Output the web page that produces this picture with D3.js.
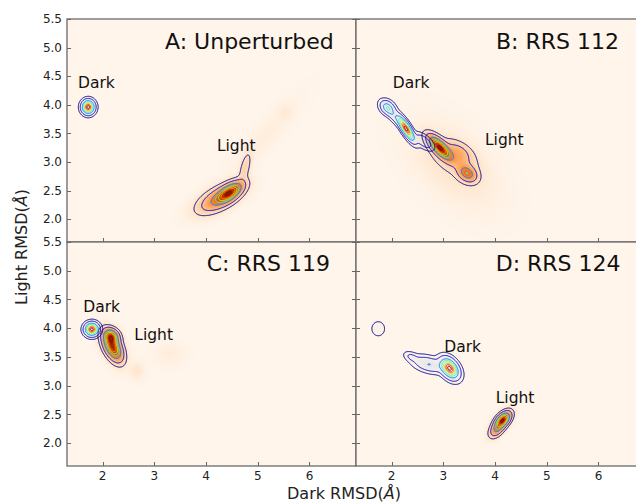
<!DOCTYPE html>
<html>
<head>
<meta charset="utf-8">
<script src="https://cdn.jsdelivr.net/npm/d3@7"></script>
<style>
  body { margin: 0; background: #fff; }
  svg { display: block; font-family: "DejaVu Sans", sans-serif; }
</style>
</head>
<body>
<svg id="chart" width="636" height="502"></svg>
<script>
// Each cluster: [centre x, centre y, sd x, sd y, correlation, weight]
const panelTitles = ["A: Unperturbed", "B: RRS 112", "C: RRS 119", "D: RRS 124"];

const lightA = [
  [4.45, 2.46, 0.14, 0.10, 0.6, 0.6],
  [4.25, 2.36, 0.21, 0.13, 0.6, 0.4],
  [4.75, 2.88, 0.07, 0.17, 0.6, 0.03],
  [5.10, 3.40, 0.35, 0.35, 0.9, 0.012],
  [5.53, 3.86, 0.08, 0.08, 0.0, 0.003]
];
const darkA = [
  [1.72, 3.96, 0.068, 0.067, 0.0, 1.0]
];

const lightB = [
  [2.93, 3.25, 0.12, 0.11, -0.7, 1.0],
  [3.22, 3.07, 0.20, 0.13, -0.5, 0.35],
  [3.30, 3.20, 0.15, 0.10, -0.5, 0.12],
  [3.46, 2.80, 0.10, 0.08, -0.3, 0.32],
  [3.20, 2.95, 0.40, 0.35, -0.5, 0.25]
];
const darkB = [
  [2.28, 3.58, 0.09, 0.12, -0.8, 1.0],
  [1.92, 3.95, 0.08, 0.07, -0.3, 0.3],
  [2.05, 3.80, 0.11, 0.11, -0.8, 0.2],
  [2.62, 3.36, 0.10, 0.08, -0.6, 0.2]
];

const lightC = [
  [2.19, 3.68, 0.10, 0.13, -0.5, 1.0],
  [2.17, 3.86, 0.08, 0.07, -0.2, 0.35],
  [2.66, 3.26, 0.08, 0.08, 0.0, 0.008],
  [3.30, 3.55, 0.15, 0.10, 0.0, 0.006]
];
const darkC = [
  [1.79, 3.98, 0.075, 0.063, 0.0, 1.0]
];

const lightD = [
  [4.15, 2.40, 0.08, 0.075, 0.5, 1.0],
  [4.05, 2.26, 0.08, 0.08, 0.5, 0.35]
];
const darkD = [
  [3.12, 3.30, 0.10, 0.10, -0.4, 1.0],
  [2.72, 3.37, 0.17, 0.08, -0.4, 0.35],
  [2.38, 3.50, 0.08, 0.05, -0.4, 0.04],
  [1.74, 3.99, 0.085, 0.085, 0.0, 0.045]
];

const xTicks = [2, 3, 4, 5, 6];
const yTicks = [2.0, 2.5, 3.0, 3.5, 4.0, 4.5, 5.0, 5.5];
const xDomain = [1.31, 6.9];
const yDomain = [1.6, 5.5];

// Contour levels as fractions of each field's peak
const levelFractions = [0.02, 0.08, 0.25, 0.4, 0.55, 0.7, 0.82, 0.94];

// ---------------------------------------------------------------------------

function density(comps, x, y) {
  let s = 0;
  for (const [cx, cy, sx, sy, r, w] of comps) {
    const dx = (x - cx) / sx, dy = (y - cy) / sy;
    const k = 1 - r * r;
    const q = (dx * dx - 2 * r * dx * dy + dy * dy) / k;
    s += w / (2 * Math.PI * sx * sy * Math.sqrt(k)) * Math.exp(-q / 2);
  }
  return s;
}

// matplotlib-style "jet" colormap
function jet(t) {
  t = Math.max(0, Math.min(1, t));
  const interp = (pts) => {
    for (let i = 1; i < pts.length; i++) {
      if (t <= pts[i][0]) {
        const [a, va] = pts[i - 1], [b, vb] = pts[i];
        return va + (vb - va) * (t - a) / (b - a);
      }
    }
    return pts[pts.length - 1][1];
  };
  const r = interp([[0, 0], [0.35, 0], [0.66, 1], [0.89, 1], [1, 0.5]]);
  const g = interp([[0, 0], [0.125, 0], [0.375, 1], [0.64, 1], [0.91, 0], [1, 0]]);
  const b = interp([[0, 0.5], [0.11, 1], [0.34, 1], [0.65, 0], [1, 0]]);
  return d3.rgb(r * 255, g * 255, b * 255).toString();
}

const svg = d3.select("#chart");
const colEdges = [[67, 356], [356, 645]];
const rowEdges = [[19, 242], [242, 466]];

const panels = [
  { title: panelTitles[0], light: lightA, dark: darkA, col: 0, row: 0,
    titleAt: [3.206, 4.98], darkAt: [1.523, 4.285], lightAt: [4.21, 3.19] },
  { title: panelTitles[1], light: lightB, dark: darkB, col: 1, row: 0,
    titleAt: [4.018, 4.98], darkAt: [2.02, 4.297], lightAt: [3.805, 3.288] },
  { title: panelTitles[2], light: lightC, dark: darkC, col: 0, row: 1,
    titleAt: [4.012, 4.99], darkAt: [1.625, 4.284], lightAt: [2.612, 3.80] },
  { title: panelTitles[3], light: lightD, dark: darkD, col: 1, row: 1,
    titleAt: [4.012, 4.99], darkAt: [3.018, 3.592], lightAt: [4.012, 2.70] }
];

const defs = svg.append("defs");

panels.forEach((p, idx) => {
  const [x0, x1] = colEdges[p.col];
  const [y0, y1] = rowEdges[p.row];
  const xs = d3.scaleLinear().domain(xDomain).range([x0, x1]);
  const ys = d3.scaleLinear().domain(yDomain).range([y1, y0]);
  const w = x1 - x0, h = y1 - y0;

  // Sample both density fields on the pixel grid of the panel
  const L = new Float64Array(w * h), D = new Float64Array(w * h);
  for (let j = 0; j < h; j++) {
    const y = ys.invert(y0 + j + 0.5);
    for (let i = 0; i < w; i++) {
      const x = xs.invert(x0 + i + 0.5);
      L[j * w + i] = density(p.light, x, y);
      D[j * w + i] = density(p.dark, x, y);
    }
  }
  const Lmax = d3.max(L), Dmax = d3.max(D);

  // Heat map: light density on an orange ramp, dark density as a pale grey-blue wash
  const canvas = document.createElement("canvas");
  canvas.width = w; canvas.height = h;
  const ctx = canvas.getContext("2d");
  const img = ctx.createImageData(w, h);
  const wash = [205, 217, 226];
  for (let k = 0; k < w * h; k++) {
    const c = d3.rgb(d3.interpolateOranges(Math.pow(L[k] / Lmax, 0.5)));
    const a = 0.5 * Math.min(1, (D[k] / Dmax) * 4);
    img.data[4 * k] = c.r * (1 - a) + wash[0] * a;
    img.data[4 * k + 1] = c.g * (1 - a) + wash[1] * a;
    img.data[4 * k + 2] = c.b * (1 - a) + wash[2] * a;
    img.data[4 * k + 3] = 255;
  }
  ctx.putImageData(img, 0, 0);

  const clipId = "clip" + idx;
  defs.append("clipPath").attr("id", clipId)
    .append("rect").attr("x", x0).attr("y", y0).attr("width", w).attr("height", h);

  const g = svg.append("g").attr("clip-path", `url(#${clipId})`);
  g.append("image")
    .attr("x", x0).attr("y", y0).attr("width", w).attr("height", h)
    .attr("preserveAspectRatio", "none")
    .attr("href", canvas.toDataURL());

  // Contour lines of each field, coloured by level
  const lo = levelFractions[0], hi = levelFractions[levelFractions.length - 1];
  const path = d3.geoPath();
  const drawContours = (field, fmax) => {
    const cont = d3.contours().size([w, h])
      .thresholds(levelFractions.map(f => f * fmax))(field);
    g.append("g").attr("transform", `translate(${x0},${y0})`)
      .selectAll("path").data(cont).join("path")
      .attr("d", path)
      .attr("fill", "none")
      .attr("stroke", (d, i) => jet((levelFractions[i] - lo) / (hi - lo)))
      .attr("stroke-width", 0.95)
      .attr("stroke-linejoin", "round");
  };
  drawContours(L, Lmax);
  drawContours(D, Dmax);

  // Annotations
  const txt = svg.append("g").attr("fill", "#111");
  txt.append("text").attr("x", xs(p.titleAt[0])).attr("y", ys(p.titleAt[1]))
    .attr("font-size", 22).text(p.title);
  txt.append("text").attr("x", xs(p.darkAt[0])).attr("y", ys(p.darkAt[1]))
    .attr("font-size", 15.5).text("Dark");
  txt.append("text").attr("x", xs(p.lightAt[0])).attr("y", ys(p.lightAt[1]))
    .attr("font-size", 15.5).text("Light");

  // Ticks pointing inward on left, right and bottom
  const tk = svg.append("g").attr("stroke", "#666").attr("stroke-width", 1);
  yTicks.forEach(v => {
    const y = Math.round(ys(v)) + 0.5;
    tk.append("line").attr("x1", x0).attr("x2", x0 + 4).attr("y1", y).attr("y2", y);
    tk.append("line").attr("x1", x1).attr("x2", x1 - 4).attr("y1", y).attr("y2", y);
  });
  xTicks.forEach(v => {
    const x = Math.round(xs(v)) + 0.5;
    tk.append("line").attr("x1", x).attr("x2", x).attr("y1", y1).attr("y2", y1 - 4);
  });

  // Tick labels on the outer edges only
  if (p.col === 0) {
    svg.append("g").selectAll("text").data(yTicks).join("text")
      .attr("x", x0 - 5).attr("y", d => ys(d)).attr("dy", "0.36em")
      .attr("text-anchor", "end").attr("font-size", 12).attr("fill", "#222")
      .text(d => d3.format(".1f")(d));
  }
  if (p.row === 1) {
    svg.append("g").selectAll("text").data(xTicks).join("text")
      .attr("x", d => xs(d)).attr("y", y1 + 14)
      .attr("text-anchor", "middle").attr("font-size", 12).attr("fill", "#222")
      .text(d => d);
  }

  // Frame
  svg.append("rect").attr("x", x0).attr("y", y0).attr("width", w).attr("height", h)
    .attr("fill", "none").attr("stroke", "#6a6a6a").attr("stroke-width", 1.3);
});

// Axis titles
const xl = svg.append("text").attr("x", 344).attr("y", 499)
  .attr("text-anchor", "middle").attr("font-size", 16).attr("fill", "#222");
xl.append("tspan").text("Dark RMSD(");
xl.append("tspan").attr("font-style", "italic").text("Å");
xl.append("tspan").text(")");

const yl = svg.append("text").attr("transform", "translate(27,247) rotate(-90)")
  .attr("text-anchor", "middle").attr("font-size", 16).attr("fill", "#222");
yl.append("tspan").text("Light RMSD(");
yl.append("tspan").attr("font-style", "italic").text("Å");
yl.append("tspan").text(")");
</script>
</body>
</html>
